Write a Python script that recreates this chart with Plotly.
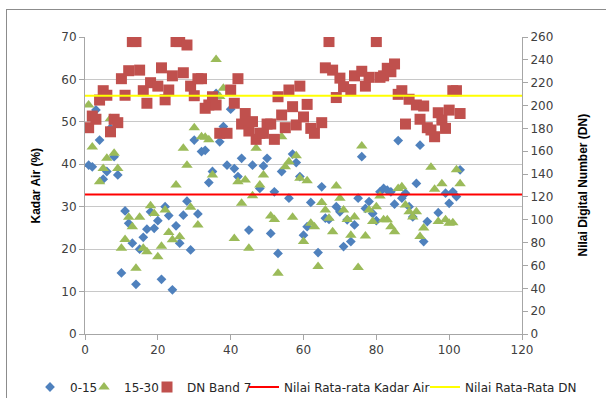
import plotly.graph_objects as go

# ---- data ----
x_015 = [1,2,3,4,5,6,7,8,9,10,11,12,13,14,15,16,17,18,19,20,21,22,23,24,25,26,27,28,29,30,
         31,32,33,34,35,36,37,38,39,40,41,42,43,45,46,48,49,50,51,52,53,54,56,57,58,59,60,
         61,62,64,65,66,67,69,70,71,72,73,74,75,76,77,78,79,80,81,82,83,84,85,86,87,88,89,90,
         91,92,93,94,97,99,100,101,102,103]
y_015 = [39.8,39.4,52.8,45.7,36.5,38.3,48.5,41.8,37.5,14.4,29.0,26.1,21.4,11.7,20.0,22.8,24.7,28.8,24.9,26.7,
         12.9,30.0,27.9,10.4,25.5,21.4,28.0,31.3,19.8,45.7,28.3,43.0,43.3,35.7,38.3,56.7,45.3,48.9,39.8,53.0,
         39.0,37.1,41.4,24.5,39.8,34.3,39.6,41.4,23.7,33.5,19.0,38.3,32.0,42.4,40.4,37.1,23.3,
         25.3,31.0,19.2,34.7,27.3,27.0,30.0,28.8,20.6,26.9,21.8,25.7,32.0,41.8,29.6,31.2,28.4,26.7,
         33.5,34.3,33.9,33.5,30.6,45.6,32.0,33.2,30.0,27.6,35.5,44.5,21.8,26.5,28.6,33.2,30.8,33.5,32.4,38.7]

x_1530 = [1,2,4,5,6,7,8,9,10,11,12,13,14,15,16,17,18,19,20,21,22,23,24,25,26,27,28,29,30,
          31,32,33,34,35,36,37,38,41,42,43,44,45,46,47,48,49,51,52,53,54,55,56,57,58,59,60,
          61,62,63,64,65,66,67,68,69,70,71,72,73,74,75,76,77,78,79,80,81,82,83,84,85,86,87,88,89,90,
          91,92,93,95,96,97,98,99,100,101,102,103]
y_1530 = [54.0,44.1,35.9,39.0,41.4,50.8,42.6,39.0,20.2,22.3,27.5,25.3,15.5,27.5,20.2,19.4,30.2,28.4,18.2,20.7,
          29.2,23.9,22.2,35.1,22.9,43.8,39.8,29.9,48.6,25.7,46.5,46.4,45.8,37.5,64.7,56.0,57.9,22.5,35.9,30.8,
          36.3,20.2,32.6,43.8,35.1,37.5,27.8,27.0,14.3,46.5,39.4,40.6,27.5,42.0,36.7,21.8,
          36.1,26.1,25.3,15.9,31.0,29.2,27.3,24.1,34.9,32.0,29.2,27.0,23.3,27.6,15.7,44.3,23.1,29.2,26.5,30.0,
          32.5,26.9,26.9,25.3,24.1,34.3,34.7,30.4,28.8,27.6,28.8,23.0,25.0,39.3,34.1,26.5,35.4,26.9,26.1,26.2,
          38.7,35.4]

x_dn = [1,2,3,4,5,6,7,8,9,10,11,12,13,14,15,16,17,18,20,21,22,23,24,25,26,27,28,29,30,
        31,32,33,34,35,36,37,39,40,41,42,43,44,45,46,47,48,49,50,51,52,53,54,55,56,57,58,59,60,
        61,62,63,65,66,67,68,69,70,71,73,74,76,77,78,80,81,82,83,84,85,86,87,88,89,
        91,92,93,94,95,96,97,98,99,100,101,102,103]
y_dn = [180.6,190.8,188,204.8,213,209,177,188,185,223.5,209,230.5,256,256,231,213,202,220,217,233,
        205,213.6,226,256,256,228.7,253,217,208.6,223.5,223.5,197.6,200.5,207.7,200.5,175.7,175.7,213.6,202,223.5,
        183.8,193,177.7,185.9,170.4,175.7,175.7,183.8,183.8,170.4,207.7,191.7,180.6,213.6,199,183,217,190,
        201,180,175.7,185,233,256,231,207,224,216.5,214,226,230,217,224.7,256,224.7,226,232.6,229.6,236.4,
        209.8,213,183.8,205.5,200.5,188,199.6,180.6,178.6,172.7,193.7,187.3,180,196,213,213,193]

mean_x = [0, 120]
mean_kadar_air = 32.9
mean_dn = 208.6

x_ticks = [0, 20, 40, 60, 80, 100, 120]

BLUE = "#4F81BD"
GREEN = "#9BBB59"
RED = "#C0504D"
FONT = "DejaVu Sans"

fig = go.Figure()
fig.add_trace(go.Scatter(x=x_015, y=y_015, mode="markers", name="0-15", legend="legend",
                         marker=dict(symbol="diamond", size=7.5, color=BLUE, line=dict(width=0))))
fig.add_trace(go.Scatter(x=x_1530, y=y_1530, mode="markers", name="15-30", legend="legend2",
                         marker=dict(symbol="triangle-up", size=10, color=GREEN, line=dict(width=0))))
fig.add_trace(go.Scatter(x=x_dn, y=y_dn, mode="markers", name="DN Band 7", yaxis="y2", legend="legend3",
                         marker=dict(symbol="square", size=11, color=RED, line=dict(width=0))))
fig.add_trace(go.Scatter(x=mean_x, y=[mean_kadar_air] * 2, mode="lines", legend="legend4",
                         name="Nilai Rata-rata Kadar Air", line=dict(color="#FF0000", width=2)))
fig.add_trace(go.Scatter(x=mean_x, y=[mean_dn] * 2, mode="lines", yaxis="y2", legend="legend5",
                         name="Nilai Rata-Rata DN", line=dict(color="#FFFF00", width=2)))

L, R, T, B = 85, 84, 37, 64
W, H = 606, 398
pw, ph = W - L - R, H - T - B

def px2x(p):
    return (p - L) / pw

def py2y(p):
    return (H - B - p) / ph

def leg(start_px):
    return dict(orientation="h", x=px2x(start_px), y=py2y(387), xanchor="left", yanchor="middle",
                font=dict(family=FONT, size=12, color="#262626"), itemwidth=30,
                borderwidth=0, bgcolor="rgba(0,0,0,0)")

axis_common = dict(showline=True, linecolor="#A6A6A6", linewidth=1, ticks="outside",
                   ticklen=5, tickcolor="#A6A6A6", zeroline=False, automargin=False,
                   tickfont=dict(family=FONT, size=12, color="#404040"))

fig.update_layout(
    width=W, height=H, autosize=False,
    margin=dict(l=L, r=R, t=T, b=B, autoexpand=False),
    paper_bgcolor="white", plot_bgcolor="white",
    showlegend=True,
    legend=leg(30), legend2=leg(84), legend3=leg(147), legend4=leg(244), legend5=leg(425),
    xaxis=dict(range=[0, 120], tickvals=x_ticks, showgrid=False, **axis_common),
    yaxis=dict(range=[0, 70], dtick=10, showgrid=True, gridcolor="#C8C8C8", gridwidth=1,
               **axis_common),
    yaxis2=dict(range=[0, 260], dtick=20, overlaying="y", side="right", showgrid=False,
                **axis_common),
    annotations=[
        dict(text="<b>Kadar Air (%)</b>", xref="paper", yref="paper", x=px2x(35), y=0.5,
             textangle=-90, showarrow=False, xanchor="center", yanchor="middle",
             font=dict(family="Liberation Sans Narrow, Liberation Sans, Arial", size=12, color="#000000")),
        dict(text="<b>Nilai Digital Number (DN)</b>", xref="paper", yref="paper", x=px2x(582), y=0.5,
             textangle=-90, showarrow=False, xanchor="center", yanchor="middle",
             font=dict(family="Liberation Sans Narrow, Liberation Sans, Arial", size=12, color="#000000")),
    ],
)

post = (
    "document.body.style.margin='0';"
    "document.body.style.overflow='hidden';"
    "var b=document.createElement('div');"
    "b.style.cssText='position:absolute;left:6px;top:9px;width:720px;height:520px;"
    "border:1px solid #8C8C8C;pointer-events:none;background:transparent;';"
    "document.body.appendChild(b);"
)

fig.write_html("out.html", config={"displayModeBar": False}, post_script=post)
